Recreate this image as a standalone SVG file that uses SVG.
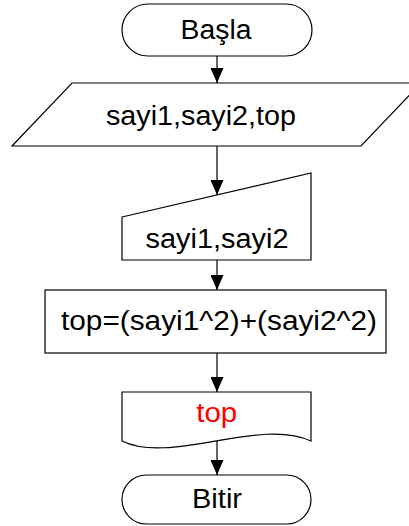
<svg xmlns="http://www.w3.org/2000/svg" width="409" height="526" viewBox="0 0 409 526">
<style>
.shape{fill:#fff;stroke:#000;stroke-width:1.2}
.lbl{font-family:"Liberation Sans",Arial,sans-serif;font-size:27px;fill:#000;text-anchor:middle}
.red{fill:#ff0000}
.conn{stroke:#000;stroke-width:1.2;fill:none;marker-end:url(#arr)}
</style>
<defs>
<marker id="arr" markerWidth="15" markerHeight="13" refX="15" refY="6.5" orient="auto" markerUnits="userSpaceOnUse" viewBox="0 0 15 13">
<path d="M0,0 L15,6.5 L0,13 Z" fill="#000"/>
</marker>
</defs>
<rect width="409" height="526" fill="#fff"/>
<g id="connectors">
<path class="conn" d="M217,56 V83"/>
<path class="conn" d="M217,146 V195"/>
<path class="conn" d="M217,260 V290"/>
<path class="conn" d="M217,353 V392"/>
<path class="conn" d="M217,441 V475"/>
</g>
<g id="start">
<rect class="shape" x="122" y="4" width="190" height="52" rx="26" ry="26"/>
<text class="lbl" x="216" y="38.5" textLength="71" lengthAdjust="spacingAndGlyphs">Başla</text>
</g>
<g id="input">
<polygon class="shape" points="72,83 421,83 361,146 12,146"/>
<text class="lbl" x="201" y="124.5" textLength="190" lengthAdjust="spacingAndGlyphs">sayi1,sayi2,top</text>
</g>
<g id="manual">
<polygon class="shape" points="122,217 311,173 311,260 122,260"/>
<text class="lbl" x="217" y="248" textLength="143" lengthAdjust="spacingAndGlyphs">sayi1,sayi2</text>
</g>
<g id="process">
<rect class="shape" x="45" y="290" width="341" height="63"/>
<text class="lbl" x="219" y="329.5" textLength="316" lengthAdjust="spacingAndGlyphs">top=(sayi1^2)+(sayi2^2)</text>
</g>
<g id="output">
<path class="shape" d="M122,392 H311 V441 C260,417 170,465 122,441 Z"/>
<text class="lbl red" x="216.7" y="422" textLength="41" lengthAdjust="spacingAndGlyphs">top</text>
</g>
<g id="end">
<rect class="shape" x="122" y="475" width="189" height="49" rx="24.5" ry="24.5"/>
<text class="lbl" x="217" y="507.5" textLength="50" lengthAdjust="spacingAndGlyphs">Bitir</text>
</g>
</svg>
